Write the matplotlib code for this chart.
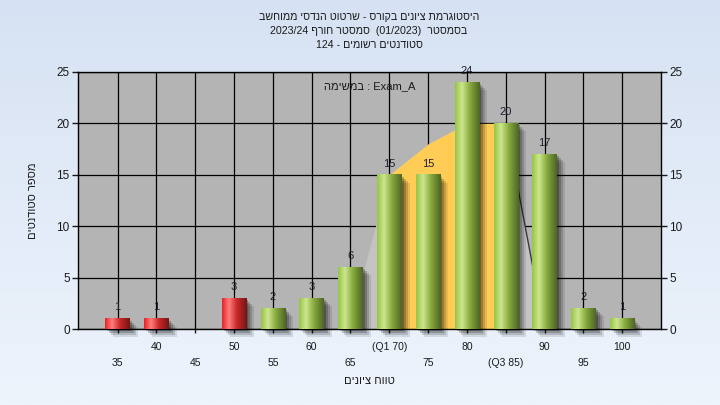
import numpy as np
import matplotlib
matplotlib.use('Agg')
import matplotlib.pyplot as plt
from matplotlib import transforms
from matplotlib.patches import Rectangle

# ---------------- data ----------------
grades = [35, 40, 45, 50, 55, 60, 65, 70, 75, 80, 85, 90, 95, 100]
counts = [1, 1, 0, 3, 2, 3, 6, 15, 15, 24, 20, 17, 2, 1]
tick_labels = ['35', '40', '45', '50', '55', '60', '65', '(Q1 70)', '75', '80',
               '(Q3 85)', '90', '95', '100']
fail_below = 55
q1_grade, q3_grade = 70, 85
curve_grades = [65, 70, 75, 80, 85, 90]
curve_values = [1, 15, 18, 20, 20, 0]
title_lines = ["היסטוגרמת ציונים בקורס - שרטוט הנדסי ממוחשב",
               "בסמסטר  (01/2023)  סמסטר חורף 2023/24",
               "סטודנטים רשומים - 124"]
task_label = "במשימה : Exam_A"
y_label = "מספר סטודנטים"
x_label = "טווח ציונים"
y_ticks = [0, 5, 10, 15, 20, 25]

FONT = ['Liberation Sans', 'DejaVu Sans']
plt.rcParams['font.family'] = FONT


def bidi(s):
    """Minimal Unicode bidi reordering (LTR paragraph) for display."""
    def typ(c):
        if '\u0590' <= c <= '\u05FF':
            return 'R'
        if c.isdigit():
            return 'EN'
        if c.isalpha():
            return 'L'
        if c in '/,.:':
            return 'CS'
        return 'N'
    t = [typ(c) for c in s]
    n = len(t)
    for i in range(1, n - 1):
        if t[i] == 'CS' and t[i - 1] == 'EN' and t[i + 1] == 'EN':
            t[i] = 'EN'
    t = ['N' if x == 'CS' else x for x in t]
    last = 'L'
    for i in range(n):
        if t[i] in ('L', 'R'):
            last = t[i]
        elif t[i] == 'EN' and last == 'L':
            t[i] = 'L'
    i = 0
    while i < n:
        if t[i] == 'N':
            j = i
            while j < n and t[j] == 'N':
                j += 1
            prev = t[i - 1] if i > 0 else 'L'
            nxt = t[j] if j < n else 'L'
            prev = 'R' if prev == 'EN' else prev
            nxt = 'R' if nxt == 'EN' else nxt
            d = prev if prev == nxt else 'L'
            for k in range(i, j):
                t[k] = d
            i = j
        else:
            i += 1
    levels = [0 if x == 'L' else 1 if x == 'R' else 2 for x in t]
    mirror = {'(': ')', ')': '(', '[': ']', ']': '['}
    chars = [mirror.get(c, c) if lv % 2 == 1 else c for c, lv in zip(s, levels)]
    order = list(range(n))
    for lvl in (2, 1):
        i = 0
        while i < n:
            if levels[order[i]] >= lvl:
                j = i
                while j < n and levels[order[j]] >= lvl:
                    j += 1
                order[i:j] = order[i:j][::-1]
                i = j
            else:
                i += 1
    return ''.join(chars[k] for k in order)


W, H = 720, 405
fig = plt.figure(figsize=(W / 100, H / 100), dpi=100)

# figure background gradient
bg = fig.add_axes([0, 0, 1, 1], zorder=-10)
top = np.array([214, 226, 243]) / 255
bot = np.array([238, 244, 252]) / 255
tt = np.linspace(0, 1, 256)[:, None]
grad = top[None, :] * (1 - tt) + bot[None, :] * tt
bg.imshow(grad[:, None, :].repeat(2, axis=1), aspect='auto', extent=[0, 1, 0, 1])
bg.set_axis_off()

L, R, T, B = 78, 661, 72, 329
ax = fig.add_axes([L / W, 1 - B / H, (R - L) / W, (B - T) / H])
ax.set_facecolor('#B4B4B4')

pos = np.arange(len(grades))
xmin, xmax = -1.02, 14.0

# grid
ax.set_axisbelow(True)
ax.grid(True, color='black', linewidth=0.9)

# distribution area
cx = np.interp(curve_grades, grades, pos)
cy = np.array(curve_values, dtype=float)
ax.fill_between(cx, 0, cy, color='#C3C3C3', zorder=1, linewidth=0)
q1p, q3p = np.interp([q1_grade, q3_grade], grades, pos)
fine = np.linspace(q1p, q3p, 50)
ax.fill_between(fine, 0, np.interp(fine, cx, cy), color='#FFCC55', zorder=1.1, linewidth=0)
ax.plot(cx[-2:], cy[-2:], color='#3A3A3A', linewidth=1.0, zorder=1.2)

# bars
bw = 0.63
bars = ax.bar(pos, counts, width=bw, color='none', zorder=3)

green_stops = [(0.0, (150, 196, 72)), (0.28, (205, 230, 140)), (0.6, (135, 170, 62)), (1.0, (78, 102, 36))]
red_stops = [(0.0, (232, 35, 35)), (0.28, (255, 125, 125)), (0.6, (200, 40, 40)), (1.0, (118, 22, 22))]


def gradient(stops):
    xs = np.linspace(0, 1, 64)
    p = [s[0] for s in stops]
    rgb = np.stack([np.interp(xs, p, [s[1][c] for s in stops]) for c in range(3)], axis=-1) / 255
    return rgb[None, :, :]


for g, patch, v in zip(grades, bars.patches, counts):
    x0 = patch.get_x()
    w = patch.get_width()
    h = patch.get_height()
    if h <= 0:
        continue
    for dpx, a in [(2, 0.24), (4, 0.2), (6, 0.15), (8, 0.1)]:
        tr = transforms.offset_copy(ax.transData, fig=fig, x=dpx, y=-dpx, units='dots')
        ax.add_patch(Rectangle((x0, 0), w, h, transform=tr, facecolor='black',
                               alpha=a, linewidth=0, zorder=2, clip_on=False))
    stops = red_stops if g < fail_below else green_stops
    ax.imshow(gradient(stops), extent=[x0, x0 + w, 0, h], aspect='auto', zorder=3,
              interpolation='bilinear')
    ax.annotate(str(v), (patch.get_x() + w / 2, h), xytext=(0, 4.5), textcoords='offset points',
                ha='center', va='bottom', fontsize=8, color='#202030', zorder=4)

ax.set_xlim(xmin, xmax)
ax.set_ylim(0, 25)

# axes styling
for s in ax.spines.values():
    s.set_color('black')
    s.set_linewidth(1.0)

ax.set_yticks(y_ticks)
ax.tick_params(axis='y', which='both', left=True, right=True, labelleft=True, labelright=True,
               direction='out', length=4, width=1, labelsize=8.5, colors='#1a1a1a', pad=2)
ax.set_xticks(pos)
ax.set_xticklabels(tick_labels)
ax.tick_params(axis='x', direction='out', length=3, width=1, labelsize=7.5, colors='#1a1a1a')
for i, tk in enumerate(ax.xaxis.get_major_ticks()):
    tk.set_pad(6 if i % 2 == 1 else 18)

ax.text(0.5, 0.945, bidi(task_label), transform=ax.transAxes, ha='center', va='center',
        fontsize=8, color='#1a1a1a', zorder=5)

# titles
for k, line in enumerate(title_lines):
    fig.text(369 / W, 1 - (17.5 + 13.5 * k) / H, bidi(line), ha='center', va='center',
             fontsize=7.7, color='#1a1a1a')

fig.text(33 / W, 1 - 201 / H, bidi(y_label), rotation=90, ha='center', va='center',
         fontsize=8, color='#1a1a1a')
fig.text(369 / W, 1 - 381 / H, bidi(x_label), ha='center', va='center',
         fontsize=8, color='#1a1a1a')

fig.savefig('out.png', dpi=100)
